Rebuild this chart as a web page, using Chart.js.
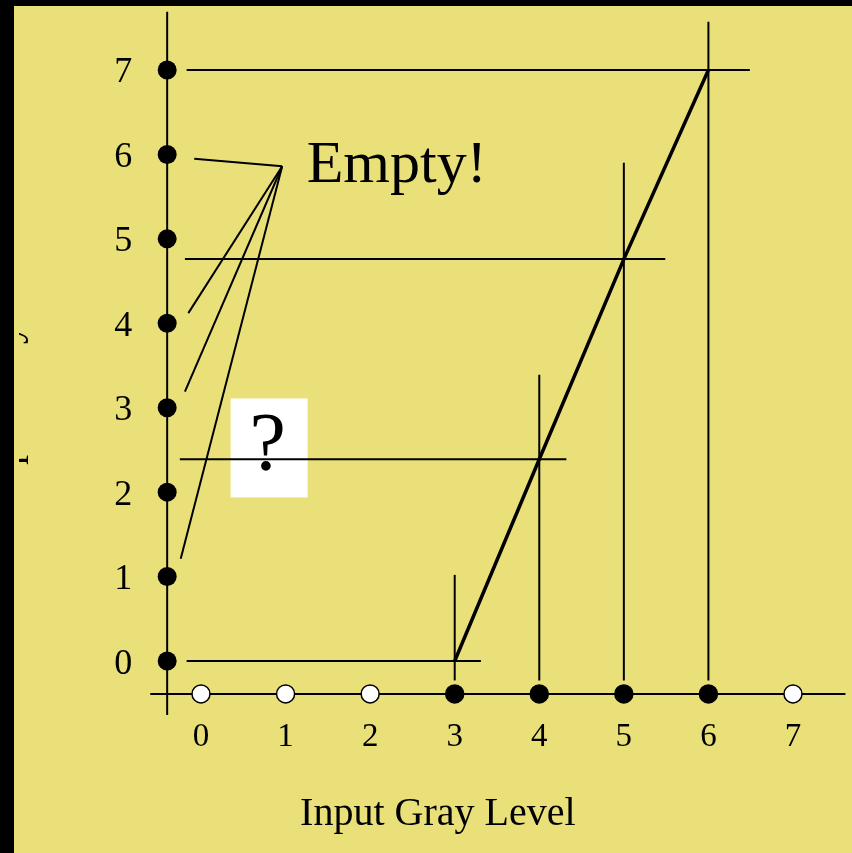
<!DOCTYPE html>
<html>
<head>
<meta charset="utf-8">
<script src="https://cdn.jsdelivr.net/npm/chart.js@4/dist/chart.umd.min.js"></script>
<style>
  html, body { margin: 0; padding: 0; background: #000; }
  #wrap { width: 852px; height: 853px; }
</style>
</head>
<body>
<div id="wrap"><canvas id="chart" width="852" height="853"></canvas></div>
<script>
// gray levels 0..7 on both axes
const levels = [0, 1, 2, 3, 4, 5, 6, 7];
// which input levels are occupied (filled dot) vs empty (open dot)
const inputUsed = [false, false, false, true, true, true, true, false];

// stretched mapping: input level -> output value
const mapIn = [3, 4, 5, 6];
const mapOut = [0, 2.39, 4.76, 7];

// guide lines through the mapping points
const hGuideFrom = [-0.17, -0.25, -0.19, -0.17];
const hGuideTo = [3.31, 4.32, 5.49, 6.49];
const vGuideFrom = [-0.23, -0.23, -0.23, -0.23];
const vGuideTo = [1.02, 3.39, 5.90, 7.57];

// "Empty!" callout: hub point and line ends near the unused output levels
const calloutHub = { x: 0.96, y: 5.86 };
const calloutEndX = [-0.08, -0.15, -0.19, -0.24];
const calloutEndY = [5.95, 4.12, 3.19, 1.21];

// axis lines (data units)
const yAxisAt = -0.40;
const yAxisRange = [-0.64, 7.69];
const xAxisAt = -0.39;
const xAxisRange = [-0.60, 7.62];

const xTitle = "Input Gray Level";
const yTitle = "Output Gray Level";

const BG = "#EAE07A";
const serif = "'Liberation Serif', 'DejaVu Serif', serif";

function seg(x1, y1, x2, y2) {
  return [{ x: x1, y: y1 }, { x: x2, y: y2 }];
}

const lineStyle = (w) => ({
  showLine: true,
  borderColor: "#000",
  borderWidth: w,
  pointRadius: 0,
  fill: false,
  order: 5,
});

const datasets = [];

// axes
datasets.push({ data: seg(yAxisAt, yAxisRange[0], yAxisAt, yAxisRange[1]), ...lineStyle(2) });
datasets.push({ data: seg(xAxisRange[0], xAxisAt, xAxisRange[1], xAxisAt), ...lineStyle(2) });

// guides
mapIn.forEach((xv, i) => {
  datasets.push({ data: seg(hGuideFrom[i], mapOut[i], hGuideTo[i], mapOut[i]), ...lineStyle(2) });
  datasets.push({ data: seg(xv, vGuideFrom[i], xv, vGuideTo[i]), ...lineStyle(2) });
});

// callout lines
calloutEndX.forEach((ex, i) => {
  datasets.push({ data: seg(calloutHub.x, calloutHub.y, ex, calloutEndY[i]), ...lineStyle(2) });
});

// mapping curve
datasets.push({
  data: mapIn.map((xv, i) => ({ x: xv, y: mapOut[i] })),
  ...lineStyle(3.5),
  order: 3,
});

// output level dots on the y axis
datasets.push({
  data: levels.map((v) => ({ x: yAxisAt, y: v })),
  showLine: false,
  pointRadius: 9.5,
  pointBackgroundColor: "#000",
  pointBorderColor: "#000",
  pointBorderWidth: 0,
  order: 1,
});

// input level dots on the x axis
datasets.push({
  data: levels.map((v) => ({ x: v, y: xAxisAt })),
  showLine: false,
  pointRadius: 9,
  pointBackgroundColor: inputUsed.map((u) => (u ? "#000" : "#fff")),
  pointBorderColor: "#000",
  pointBorderWidth: 1.5,
  order: 1,
});

const bgPlugin = {
  id: "bg",
  beforeDraw(chart) {
    const ctx = chart.ctx;
    ctx.save();
    ctx.fillStyle = BG;
    ctx.fillRect(0, 0, chart.width, chart.height);
    ctx.restore();
  },
  beforeDatasetsDraw(chart) {
    const { ctx, scales: { x, y } } = chart;
    ctx.save();
    // white box behind the question mark
    const bx = x.getPixelForValue(0.35), by = y.getPixelForValue(3.11);
    ctx.fillStyle = "#fff";
    ctx.fillRect(bx, by, 77, 99);
    ctx.fillStyle = "#000";
    ctx.textAlign = "center";
    ctx.textBaseline = "alphabetic";
    ctx.font = "82px " + serif;
    ctx.fillText("?", bx + 37, by + 71);

    // callout text
    ctx.textAlign = "left";
    ctx.font = "60px " + serif;
    ctx.fillText("Empty!", x.getPixelForValue(1.25), y.getPixelForValue(5.67));
    ctx.restore();
  },
  afterDatasetsDraw(chart) {
    const { ctx, scales: { x, y } } = chart;
    ctx.save();
    ctx.fillStyle = "#000";
    ctx.textBaseline = "alphabetic";

    // y tick labels
    ctx.textAlign = "center";
    ctx.font = "36px " + serif;
    const ly = x.getPixelForValue(yAxisAt) - 44;
    levels.forEach((v) => {
      ctx.fillText(String(v), ly, y.getPixelForValue(v) + 12.5);
    });

    // x tick labels
    ctx.font = "33px " + serif;
    const lx = y.getPixelForValue(xAxisAt) + 52;
    levels.forEach((v) => {
      ctx.fillText(String(v), x.getPixelForValue(v), lx);
    });

    // x title
    ctx.font = "40px " + serif;
    ctx.fillText(xTitle, x.getPixelForValue(2.8), 825);

    // y title: only the descenders peek out past the dark frame
    ctx.beginPath();
    ctx.rect(19, 0, 20, chart.height);
    ctx.clip();
    ctx.translate(19, 374);
    ctx.rotate(-Math.PI / 2);
    ctx.fillText(yTitle, 0, 0);
    ctx.restore();
  },
  afterDraw(chart) {
    const ctx = chart.ctx;
    ctx.save();
    ctx.fillStyle = "#000";
    ctx.fillRect(0, 0, chart.width, 6);
    ctx.fillRect(0, 0, 14, chart.height);
    ctx.restore();
  },
};

new Chart(document.getElementById("chart"), {
  type: "scatter",
  data: { datasets },
  options: {
    responsive: false,
    animation: false,
    layout: { padding: 0, autoPadding: false },
    plugins: { legend: { display: false }, tooltip: { enabled: false } },
    scales: {
      x: { type: "linear", display: false, min: -2.3767, max: 7.6978 },
      y: { type: "linear", display: false, min: -2.274, max: 7.829 },
    },
  },
  plugins: [bgPlugin],
});
</script>
</body>
</html>
